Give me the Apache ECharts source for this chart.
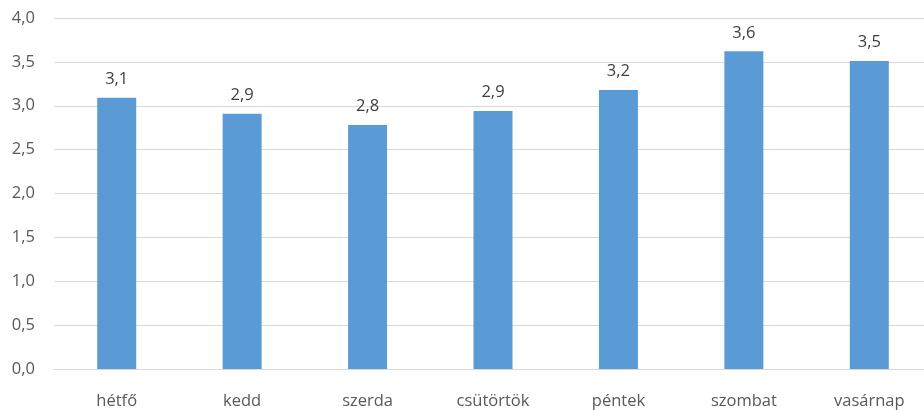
<!DOCTYPE html>
<html><head><meta charset="utf-8">
<script src="https://cdn.jsdelivr.net/npm/echarts@6/dist/echarts.min.js"></script>
<style>html,body{margin:0;padding:0;background:#fff;overflow:hidden}#c{width:932px;height:410px}</style>
</head><body><div id="c"></div>
<script>
const categories = ['hétfő','kedd','szerda','csütörtök','péntek','szombat','vasárnap'];
const values = [3.09, 2.91, 2.78, 2.94, 3.18, 3.62, 3.51];
const yMin = 0, yMax = 4, yInterval = 0.5;
const fmt = v => v.toFixed(1).replace('.', ',');
const chart = echarts.init(document.getElementById('c'));
chart.setOption({
  animation: false,
  grid: {left: 54, right: 0, top: 18, height: 351, containLabel: false},
  xAxis: {
    type: 'category', data: categories,
    axisLine: {lineStyle: {color: '#D9D9D9', width: 1}},
    axisTick: {show: false},
    axisLabel: {color: '#595959', fontSize: 16.5, fontFamily: 'Open Sans', margin: 24}
  },
  yAxis: {
    type: 'value', min: yMin, max: yMax, interval: yInterval,
    axisLine: {show: false}, axisTick: {show: false},
    splitLine: {lineStyle: {color: '#D9D9D9', width: 1}},
    axisLabel: {color: '#595959', fontSize: 16.5, fontFamily: 'Open Sans', margin: 19, formatter: fmt}
  },
  series: [{
    type: 'bar', data: values, barWidth: 39,
    itemStyle: {color: '#5B9BD5'},
    label: {show: true, position: 'top', distance: 10, color: '#404040', fontSize: 16.5, fontFamily: 'Open Sans', formatter: p => fmt(p.value)}
  }]
});
</script></body></html>
